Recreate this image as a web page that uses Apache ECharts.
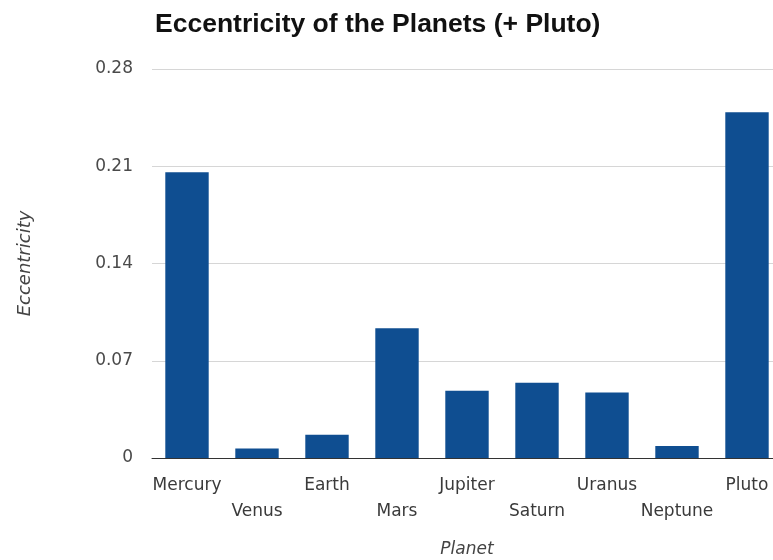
<!DOCTYPE html>
<html>
<head>
<meta charset="utf-8">
<script src="https://cdn.jsdelivr.net/npm/echarts@6/dist/echarts.min.js"></script>
<style>
  html, body { margin: 0; padding: 0; background: #fff; overflow: hidden; }
  /* the plot runs a little past the right edge of the window */
  #chart { width: 782px; height: 560px; }
</style>
</head>
<body>
<div id="chart"></div>
<script>
// Orbital eccentricity of each planet, plus Pluto
const planets = ['Mercury', 'Venus', 'Earth', 'Mars', 'Jupiter', 'Saturn', 'Uranus', 'Neptune', 'Pluto'];
const eccentricity = [0.2056, 0.0068, 0.0167, 0.0934, 0.0484, 0.0542, 0.0472, 0.0086, 0.2488];
const yTicks = [0, 0.07, 0.14, 0.21, 0.28];

const labelFont = '"DejaVu Sans", Verdana, sans-serif';

const chart = echarts.init(document.getElementById('chart'));
chart.setOption({
  animation: false,
  backgroundColor: '#ffffff',
  title: {
    text: 'Eccentricity of the Planets (+ Pluto)',
    left: 150,
    top: 6,
    textStyle: { fontFamily: '"Liberation Sans", Arial, sans-serif', fontSize: 26.5, fontWeight: 'bold', color: '#111' }
  },
  grid: { left: 152, right: 0, top: 69, bottom: 102, containLabel: false, outerBoundsMode: 'none' },
  xAxis: {
    type: 'category',
    data: planets,
    name: 'Planet',
    nameLocation: 'middle',
    nameGap: 83,
    nameTextStyle: { fontFamily: labelFont, fontSize: 17, fontStyle: 'italic', color: '#444' },
    axisLine: { lineStyle: { color: '#333', width: 1 } },
    axisTick: { show: false },
    axisLabel: {
      interval: 0,
      margin: 15,
      fontFamily: labelFont,
      fontSize: 17,
      color: '#3a3a3a',
      lineHeight: 26,
      formatter: (v, i) => (i % 2 ? '\n' + v : v)
    }
  },
  yAxis: {
    type: 'value',
    min: yTicks[0],
    max: yTicks[yTicks.length - 1],
    interval: yTicks[1] - yTicks[0],
    name: 'Eccentricity',
    nameLocation: 'middle',
    nameGap: 118,
    nameTextStyle: { fontFamily: labelFont, fontSize: 18, fontStyle: 'italic', color: '#444' },
    axisLine: { show: false },
    axisTick: { show: false },
    splitLine: { lineStyle: { color: '#d6d6d6', width: 1 } },
    axisLabel: {
      margin: 19,
      padding: [4, 0, 0, 0],
      fontFamily: labelFont,
      fontSize: 17,
      color: '#4a4a4a',
      formatter: v => String(+v.toFixed(2))
    }
  },
  series: [{
    type: 'bar',
    data: eccentricity,
    barCategoryGap: '38%',
    itemStyle: { color: '#0f4e91' }
  }]
});
</script>
</body>
</html>
